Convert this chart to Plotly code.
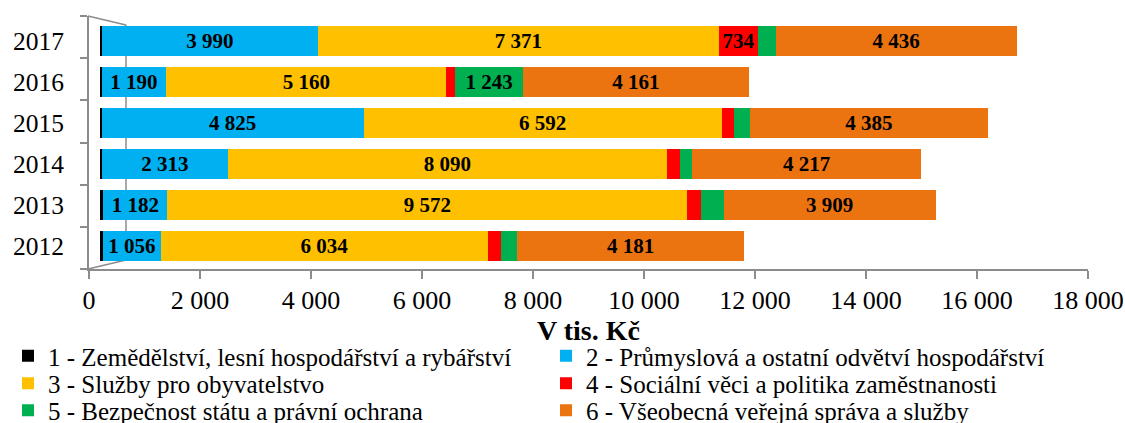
import plotly.graph_objects as go

years = ["2012", "2013", "2014", "2015", "2016", "2017"]
names = [
    "1 - Zemědělství, lesní hospodářství a rybářství",
    "2 - Průmyslová a ostatní odvětví hospodářství",
    "3 - Služby pro obyvatelstvo",
    "4 - Sociální věci a politika zaměstnanosti",
    "5 - Bezpečnost státu a právní ochrana",
    "6 - Všeobecná veřejná správa a služby",
]
agri = [60, 60, 40, 30, 30, 30]
industry = [1056, 1182, 2313, 4825, 1190, 3990]
services = [6034, 9572, 8090, 6592, 5160, 7371]
social = [230, 260, 240, 220, 165, 734]
security = [300, 410, 220, 300, 1243, 320]
admin = [4181, 3909, 4217, 4385, 4161, 4436]
series = [agri, industry, services, social, security, admin]

# which data labels are shown
labeled = [
    [False] * 6,
    [True] * 6,
    [True] * 6,
    [False, False, False, False, False, True],
    [False, False, False, False, True, False],
    [True] * 6,
]
colors = ["#000000", "#00B0F0", "#FFC000", "#FF0000", "#00B050", "#EC7410"]
legends = ["legend", "legend", "legend2", "legend2", "legend3", "legend3"]
x_ticks = [0, 2000, 4000, 6000, 8000, 10000, 12000, 14000, 16000, 18000]

W, H = 1125, 423
FONT = "Liberation Serif"
GRAY = "#8C8C8C"


def fmt(v):
    return f"{v:,}".replace(",", " ")


fig = go.Figure()
for name, vals, lab, col, lg in zip(names, series, labeled, colors, legends):
    fig.add_trace(go.Bar(
        y=years, x=vals, orientation="h", name=name,
        marker=dict(color=col, line=dict(width=0)),
        text=[fmt(v) if s else "" for v, s in zip(vals, lab)],
        textposition="inside", insidetextanchor="middle", textangle=0,
        textfont=dict(family=FONT, size=21, color="black", weight="bold"),
        constraintext="none", cliponaxis=False,
        legend=lg, hoverinfo="x+name",
    ))

# empty helper trace so the visible 3D-frame axes (x2/y2) are drawn
fig.add_trace(go.Scatter(x=[None], y=[None], xaxis="x2", yaxis="y2",
                         mode="markers", showlegend=False, hoverinfo="skip"))


def px(x):
    return x / W


def py(y):
    return 1 - y / H


shapes = []
for (x0, y0, x1, y1) in [(88, 16, 126, 25), (126, 25, 126, 260), (88, 269, 126, 260)]:
    shapes.append(dict(type="line", xref="paper", yref="paper",
                       x0=px(x0), y0=py(y0), x1=px(x1), y1=py(y1),
                       line=dict(color=GRAY, width=1.5), layer="below"))

leg_common = dict(orientation="h", xref="paper", yref="paper", traceorder="normal",
                  xanchor="left", yanchor="middle", entrywidthmode="pixels",
                  entrywidth=493, font=dict(family=FONT, size=25, color="black"),
                  bgcolor="rgba(0,0,0,0)", itemclick=False, itemdoubleclick=False)

fig.update_layout(
    width=W, height=H, autosize=False,
    margin=dict(l=0, r=0, t=0, b=0, autoexpand=False),
    paper_bgcolor="white", plot_bgcolor="rgba(0,0,0,0)",
    barmode="stack", bargap=0.27,
    separators=", ",
    font=dict(family=FONT, color="black"),
    shapes=shapes,
    xaxis=dict(domain=[px(100), px(100 + 18 * 54.3)], range=[0, 18000],
               visible=False, fixedrange=True),
    yaxis=dict(domain=[py(266.5), py(20.5)], type="category", categoryarray=years,
               categoryorder="array", range=[-0.5, 5.5], anchor="free", position=px(88),
               showline=False, showgrid=False, zeroline=False, ticks="",
               ticklabelstandoff=24, tickfont=dict(family=FONT, size=25.5, color="black"),
               fixedrange=True),
    xaxis2=dict(domain=[px(89), px(1088)], range=[0, 18000], anchor="y2",
                tickvals=x_ticks, tickformat=",d", ticks="outside", ticklen=8,
                tickcolor=GRAY, tickwidth=1.5, showline=True, linecolor=GRAY, linewidth=1.5,
                showgrid=False, zeroline=False, ticklabelstandoff=-1,
                tickfont=dict(family=FONT, size=26, color="black"),
                title=dict(text="<b>V tis. Kč</b>", font=dict(family=FONT, size=28, color="black"),
                           standoff=5),
                fixedrange=True),
    yaxis2=dict(domain=[py(269), py(16)], range=[0, 6], anchor="x2", tick0=0, dtick=1,
                ticks="outside", ticklen=7, tickcolor=GRAY, tickwidth=1.5,
                showline=True, linecolor=GRAY, linewidth=1.5, showticklabels=False,
                showgrid=False, zeroline=False, fixedrange=True),
    legend=dict(x=8 / W, y=1 - 356 / H, **leg_common),
    legend2=dict(x=8 / W, y=1 - 383.5 / H, **leg_common),
    legend3=dict(x=8 / W, y=1 - 410.5 / H, **leg_common),
    showlegend=True,
)

fig.write_html("out.html", config={"displayModeBar": False},
               post_script="document.body.style.margin='0';document.body.style.padding='0';")
